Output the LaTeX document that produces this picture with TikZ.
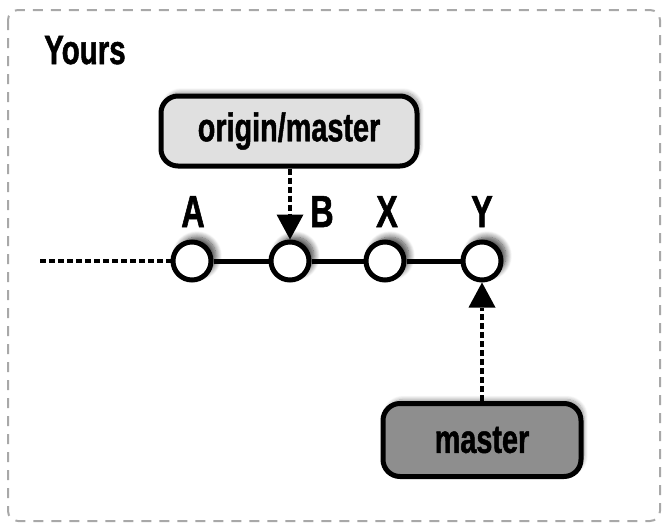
\documentclass[tikz,border=0pt]{standalone}
\usepackage{fontspec}
\newfontfamily\condfont[FakeStretch=0.72,FakeBold=1.2]{Liberation Sans}
\usetikzlibrary{arrows.meta,shadows.blur}
\definecolor{lightbox}{HTML}{E0E0E0}
\definecolor{darkbox}{HTML}{8E8E8E}
\definecolor{framegray}{HTML}{A8A8A8}
\tikzset{
  commit/.style={circle, draw=black, line width=5pt, fill=white, minimum size=38pt, inner sep=0pt,
    blur shadow={shadow xshift=5pt, shadow yshift=5pt, shadow blur radius=6pt, shadow blur steps=12, shadow opacity=75}},
  refbox/.style={draw=black, line width=5pt, rounded corners=17pt,
    font=\condfont\bfseries\fontsize{40}{40}\selectfont, inner sep=0pt,
    blur shadow={shadow xshift=3pt, shadow yshift=4pt, shadow blur radius=4pt, shadow blur steps=8, shadow opacity=40}},
  lbl/.style={font=\condfont\bfseries\fontsize{45}{45}\selectfont, inner sep=0pt, anchor=base},
  dotline/.style={line width=4.5pt, dash pattern=on 6pt off 3pt},
  ptr/.style={dotline, -{Triangle[width=27pt,length=25pt,line width=0pt]}, shorten >=0pt},
}
\begin{document}
\begin{tikzpicture}[x=1pt,y=-1pt]
\useasboundingbox (0,0) rectangle (670,528);
\draw[framegray, line width=2pt, dash pattern=on 10pt off 8pt, rounded corners=10pt] (8,10) rectangle (660,521);
\node[font=\condfont\bfseries\fontsize{41}{41}\selectfont, anchor=base west, inner sep=0pt] (title) at (44,64) {Yours};

\node[commit] (A) at (192,261) {};
\node[commit] (B) at (290,261) {};
\node[commit] (X) at (385,261) {};
\node[commit] (Y) at (482,261) {};
\coordinate (start) at (40,261);

\node[lbl] (la) at (193,227) {A};
\node[lbl] (lb) at (322,227) {B};
\node[lbl] (lx) at (387,227) {X};
\node[lbl] (ly) at (482,227) {Y};

\draw[dotline] (start) -- (A.west);
\draw[line width=5pt] (A) -- (B) (B) -- (X) (X) -- (Y);

\node[refbox, fill=lightbox, minimum width=256pt, minimum height=70pt] (om) at (289,131) {origin/master};
\node[refbox, fill=darkbox, minimum width=198pt, minimum height=73pt] (m) at (482,440) {master};

\draw[ptr] (om.south -| B) -- (B.north);
\draw[ptr] (m.north -| Y) -- (Y.south);
\end{tikzpicture}
\end{document}
